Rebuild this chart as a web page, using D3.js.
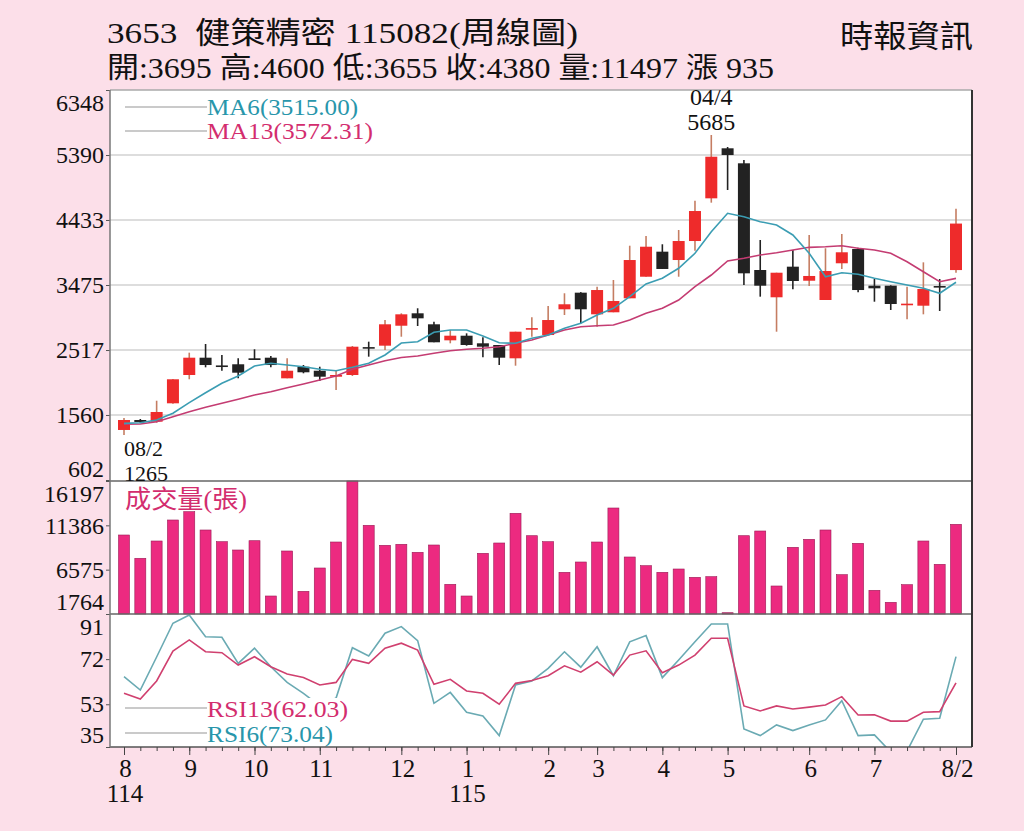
<!DOCTYPE html>
<html>
<head>
<meta charset="utf-8">
<script src="https://cdnjs.cloudflare.com/ajax/libs/d3/7.8.5/d3.min.js"></script>
<style>
  body { margin: 0; background: #fcdfe9; }
  text { font-family: "Liberation Serif", "Noto Sans CJK TC", serif; }
</style>
</head>
<body>
<div id="chart"></div>
<script>
// weekly bars, index 0 = 114/08 week 2 ... 51 = 115/08 week 2
var weekIdx = d3.range(52);

var openP  = [1339,1486,1461,1732,2149,2404,2290,2307,2395,2404,2100,2271,2212,2124,2149,2560,2581,2875,3058,2896,2660,2728,2616,2591,2395,2830,
              2738,3117,3362,3043,3073,3279,3597,3966,3843,4123,4752,5489,5268,3696,3294,3745,3538,3254,3795,4005,3465,3465,3190,3170,3460,3695];
var highP  = [1515,1501,1770,2090,2478,2606,2444,2395,2528,2429,2395,2296,2271,2212,2576,2640,2959,3058,3132,2934,2812,2763,2704,2591,2787,3000,
              3166,3353,3370,3450,3549,4054,4197,4075,4285,4717,5685,5508,5317,4138,3656,3991,4212,4016,4226,4024,3563,3470,3450,3809,3563,4600];
var lowP   = [1265,1442,1446,1725,2086,2262,2212,2100,2370,2262,2100,2174,2061,1928,2134,2419,2517,2713,2871,2631,2616,2581,2410,2296,2286,2713,
              2738,3033,2911,2861,3073,3279,3597,3711,3597,3980,4688,4875,3475,3303,2787,3412,3460,3254,3711,3367,3229,3107,2970,3043,3092,3655];
var closeP = [1486,1457,1604,2086,2404,2296,2285,2183,2370,2296,2212,2189,2124,2149,2566,2545,2896,3043,2984,2631,2728,2591,2566,2404,2787,2840,
              2959,3191,3117,3401,3239,3843,4039,3711,4123,4565,5365,5390,3647,3465,3656,3534,3608,3681,3957,3401,3426,3195,3200,3416,3445,4380];

var ma6  = [1437,1446,1486,1585,1741,1888,2027,2134,2282,2321,2296,2271,2233,2212,2262,2321,2444,2620,2640,2778,2812,2812,2724,2625,2616,2690,
            2738,2837,2911,3033,3132,3303,3490,3574,3721,3942,4260,4531,4481,4408,4359,4212,3942,3597,3656,3633,3574,3524,3475,3426,3353,3515];
var ma13 = [1423,1427,1461,1535,1608,1673,1732,1791,1854,1903,1962,2016,2075,2134,2233,2296,2360,2407,2429,2469,2507,2528,2542,2566,2616,2665,
            2738,2812,2861,2874,2886,2959,3058,3132,3254,3450,3622,3829,3868,3917,3951,3991,4030,4039,4054,4016,3991,3942,3818,3671,3524,3572.31];

var volume = [10337,7809,9686,11965,12866,10880,9610,8709,9718,3717,8601,4227,6756,9577,16197,11390,9219,9328,8460,9252,4987,3717,8351,9469,12692,10261,
              9610,6289,7407,9577,13267,7950,7006,6289,6647,5747,5812,1905,10261,10771,4803,9002,9870,10880,6029,9436,4336,3034,4944,9686,7157,11497];

var rsi6  = [64.6,59.0,72.9,87.1,90.6,81.4,81.2,70.2,76.6,68.8,62.2,57.6,52.3,55.6,76.8,73.3,82.9,85.7,79.8,53.4,58.0,49.6,48.1,39.8,61.1,62.8,
             68.1,75.1,68.6,77.2,65.0,79.3,81.9,64.2,71.6,79.3,86.8,86.8,42.6,39.8,44.3,41.9,44.3,46.4,54.5,39.8,40.1,32.9,33.3,46.7,47.1,73.04];
var rsi13 = [57.6,55.2,62.8,75.4,80.1,75.1,74.7,69.5,73.0,68.8,65.7,64.3,61.1,62.2,71.9,70.2,76.6,78.7,75.8,61.4,63.5,58.6,57.6,53.0,61.8,63.0,
             65.0,69.2,66.5,70.9,65.3,73.7,75.5,66.3,69.5,73.7,80.8,80.8,52.3,50.2,52.3,51.0,51.8,52.7,56.2,48.5,48.6,45.9,45.9,49.6,49.9,62.03];

var priceTicks = [602, 1560, 2517, 3475, 4433, 5390, 6348];
var volTicks = [1764, 6575, 11386, 16197];
var rsiTicks = [35, 53, 72, 91];

var monthTicks = [0, 4, 8, 12, 17, 21, 26, 29, 33, 37, 42, 46, 51];
var monthLabels = ["8", "9", "10", "11", "12", "1", "2", "3", "4", "5", "6", "7", "8/2"];
var yearTicks = [0, 21];
var yearLabels = ["114", "115"];

var svgWidth = 1024, svgHeight = 831;
var left = 110, right = 972;
var priceTop = 90, priceBottom = 481;
var volTop = 481, volBottom = 614;
var rsiTop = 614, rsiBottom = 747;

var svg = d3.select("#chart").append("svg")
  .attr("width", svgWidth)
  .attr("height", svgHeight);

svg.append("rect").attr("width", svgWidth).attr("height", svgHeight).attr("fill", "#fcdfe9");
svg.append("rect")
  .attr("x", left).attr("y", priceTop)
  .attr("width", right - left).attr("height", rsiBottom - priceTop)
  .attr("fill", "#fff");

// header
svg.append("text").attr("x", 107).attr("y", 43)
  .attr("font-size", 30).attr("fill", "#111")
  .attr("textLength", 471).attr("lengthAdjust", "spacingAndGlyphs")
  .style("white-space", "pre")
  .text("3653  健策精密 115082(周線圖)");
svg.append("text").attr("x", 107).attr("y", 78)
  .attr("font-size", 29).attr("fill", "#111")
  .attr("textLength", 667).attr("lengthAdjust", "spacingAndGlyphs")
  .text("開:3695 高:4600 低:3655 收:4380 量:11497 漲 935");
svg.append("text").attr("x", 840).attr("y", 47)
  .attr("font-size", 31).attr("fill", "#111")
  .attr("textLength", 133).attr("lengthAdjust", "spacingAndGlyphs")
  .text("時報資訊");

var x = d3.scalePoint().domain(weekIdx).range([124, 956]);
var yPrice = d3.scaleLinear().domain([602, 6348]).range([priceBottom - 1, priceTop]);
var yVol = d3.scaleLinear().domain([1764, 16197]).range([volBottom, volTop]);
var yRsi = d3.scaleLinear().domain([35, 91]).range([rsiBottom, rsiTop]);

// gridlines
svg.append("g").selectAll("line")
  .data(priceTicks.slice(1, -1))
  .enter().append("line")
  .attr("x1", left).attr("x2", right)
  .attr("y1", d => yPrice(d)).attr("y2", d => yPrice(d))
  .attr("stroke", "#d2d2d2").attr("stroke-width", 1.5);

// left axes, extreme labels pushed inside the panel
function leftAxis(scale, ticks, top, bottom) {
  var g = svg.append("g")
    .attr("transform", `translate(${left}, 0)`)
    .call(d3.axisLeft(scale).tickValues(ticks).tickSize(4).tickPadding(2).tickFormat(d3.format(".0f")));
  g.select(".domain").remove();
  g.selectAll(".tick line").attr("stroke", "#555");
  g.selectAll(".tick text")
    .attr("font-size", 24)
    .attr("font-family", "Liberation Serif")
    .attr("fill", "#111")
    .attr("y", d => Math.min(Math.max(scale(d), top + 13), bottom - 12) - scale(d));
}
leftAxis(yPrice, priceTicks, priceTop, priceBottom);
leftAxis(yVol, volTicks, volTop, volBottom);
leftAxis(yRsi, rsiTicks, rsiTop, rsiBottom);

// volume bars
svg.append("g").selectAll("rect")
  .data(weekIdx)
  .enter().append("rect")
  .attr("x", d => x(d) - 5.5)
  .attr("width", 11)
  .attr("y", d => yVol(volume[d]))
  .attr("height", d => volBottom - yVol(volume[d]))
  .attr("fill", "#ec2a80")
  .attr("stroke", "#9a1c55")
  .attr("stroke-width", 0.6);

// candles
var candles = svg.append("g").selectAll("g")
  .data(weekIdx)
  .enter().append("g");

candles.append("line")
  .attr("x1", d => x(d)).attr("x2", d => x(d))
  .attr("y1", d => yPrice(highP[d])).attr("y2", d => yPrice(lowP[d]))
  .attr("stroke", d => closeP[d] >= openP[d] ? "#c57d62" : "#222")
  .attr("stroke-width", 1.6);

candles.append("rect")
  .attr("x", d => x(d) - 6)
  .attr("width", 12)
  .attr("y", d => yPrice(Math.max(openP[d], closeP[d])))
  .attr("height", d => Math.max(Math.abs(yPrice(openP[d]) - yPrice(closeP[d])), 1.6))
  .attr("fill", d => closeP[d] >= openP[d] ? "#ee2b2b" : "#222");

// moving averages
var maLine = d3.line().x((d, i) => x(i)).y(d => yPrice(d));
svg.append("path").datum(ma13).attr("d", maLine)
  .attr("fill", "none").attr("stroke", "#c43c72").attr("stroke-width", 1.6);
svg.append("path").datum(ma6).attr("d", maLine)
  .attr("fill", "none").attr("stroke", "#3b9db3").attr("stroke-width", 1.6);

// rsi
svg.append("clipPath").attr("id", "rsiClip")
  .append("rect").attr("x", left).attr("y", rsiTop).attr("width", right - left).attr("height", rsiBottom - rsiTop);
var rsiLine = d3.line().x((d, i) => x(i)).y(d => yRsi(d));
svg.append("path").datum(rsi6).attr("d", rsiLine).attr("clip-path", "url(#rsiClip)")
  .attr("fill", "none").attr("stroke", "#6aaab3").attr("stroke-width", 1.6);
svg.append("path").datum(rsi13).attr("d", rsiLine).attr("clip-path", "url(#rsiClip)")
  .attr("fill", "none").attr("stroke", "#d0406f").attr("stroke-width", 1.6);

// legends
function legend(label, color, lineY, baseY, len, withBg) {
  svg.append("line")
    .attr("x1", 125).attr("x2", 207).attr("y1", lineY).attr("y2", lineY)
    .attr("stroke", "#b9b9b9").attr("stroke-width", 1.5);
  if (withBg) {
    svg.append("rect").attr("x", 207).attr("y", baseY - 19).attr("width", len + 2).attr("height", 23).attr("fill", "#fff");
  }
  svg.append("text").attr("x", 207).attr("y", baseY)
    .attr("font-size", 24).attr("fill", color)
    .attr("textLength", len).attr("lengthAdjust", "spacingAndGlyphs")
    .text(label);
}
legend("MA6(3515.00)", "#2896ab", 107, 115, 151, false);
legend("MA13(3572.31)", "#d32d6e", 131, 139, 166, false);
legend("RSI13(62.03)", "#d32d6e", 708, 717, 141, true);
legend("RSI6(73.04)", "#2896ab", 733, 742, 126, true);

svg.append("text").attr("x", 125).attr("y", 508)
  .attr("font-size", 25).attr("fill", "#d32d6e")
  .attr("textLength", 122).attr("lengthAdjust", "spacingAndGlyphs")
  .text("成交量(張)");

// frame
var frame = svg.append("g").attr("stroke-width", 1.5);
frame.append("line").attr("x1", left).attr("x2", right).attr("y1", priceTop).attr("y2", priceTop).attr("stroke", "#aaa");
frame.append("line").attr("x1", left).attr("x2", right).attr("y1", volTop).attr("y2", volTop).attr("stroke", "#666");
frame.append("line").attr("x1", left).attr("x2", right).attr("y1", rsiTop).attr("y2", rsiTop).attr("stroke", "#666");
frame.append("line").attr("x1", left).attr("x2", right).attr("y1", rsiBottom).attr("y2", rsiBottom).attr("stroke", "#555");
frame.append("line").attr("x1", left).attr("x2", left).attr("y1", priceTop).attr("y2", rsiBottom).attr("stroke", "#777");
frame.append("line").attr("x1", right).attr("x2", right).attr("y1", priceTop).attr("y2", rsiBottom).attr("stroke", "#333").attr("stroke-width", 2);

// high / low notes
svg.append("text").attr("x", x(36)).attr("y", 105).attr("text-anchor", "middle")
  .attr("font-size", 24).attr("fill", "#111").text("04/4");
svg.append("text").attr("x", x(36)).attr("y", 130).attr("text-anchor", "middle")
  .attr("font-size", 24).attr("fill", "#111").text(d3.max(highP));
svg.append("text").attr("x", x(0)).attr("y", 456)
  .attr("font-size", 22).attr("fill", "#111").text("08/2");
svg.append("text").attr("x", x(0)).attr("y", 481)
  .attr("font-size", 22).attr("fill", "#111").text(d3.min(lowP));

// bottom axis: weekly minor ticks, month major ticks
var minor = svg.append("g")
  .attr("transform", `translate(0, ${rsiBottom})`)
  .call(d3.axisBottom(x).tickValues(weekIdx).tickSize(4).tickFormat(""));
minor.select(".domain").remove();
minor.selectAll(".tick line").attr("stroke", "#444");

var major = svg.append("g")
  .attr("transform", `translate(0, ${rsiBottom})`)
  .call(d3.axisBottom(x).tickValues(monthTicks).tickSize(8).tickPadding(3)
    .tickFormat(d => monthLabels[monthTicks.indexOf(d)]));
major.select(".domain").remove();
major.selectAll(".tick line").attr("stroke", "#444");
major.selectAll(".tick text")
  .attr("font-size", 25).attr("font-family", "Liberation Serif").attr("fill", "#111")
  .attr("dy", "0.75em").attr("dx", 1);

svg.append("g").selectAll("text")
  .data(yearTicks)
  .enter().append("text")
  .attr("x", d => x(d) + 1)
  .attr("y", 802)
  .attr("text-anchor", "middle")
  .attr("font-size", 25).attr("fill", "#111")
  .text((d, i) => yearLabels[i]);
</script>
</body>
</html>
